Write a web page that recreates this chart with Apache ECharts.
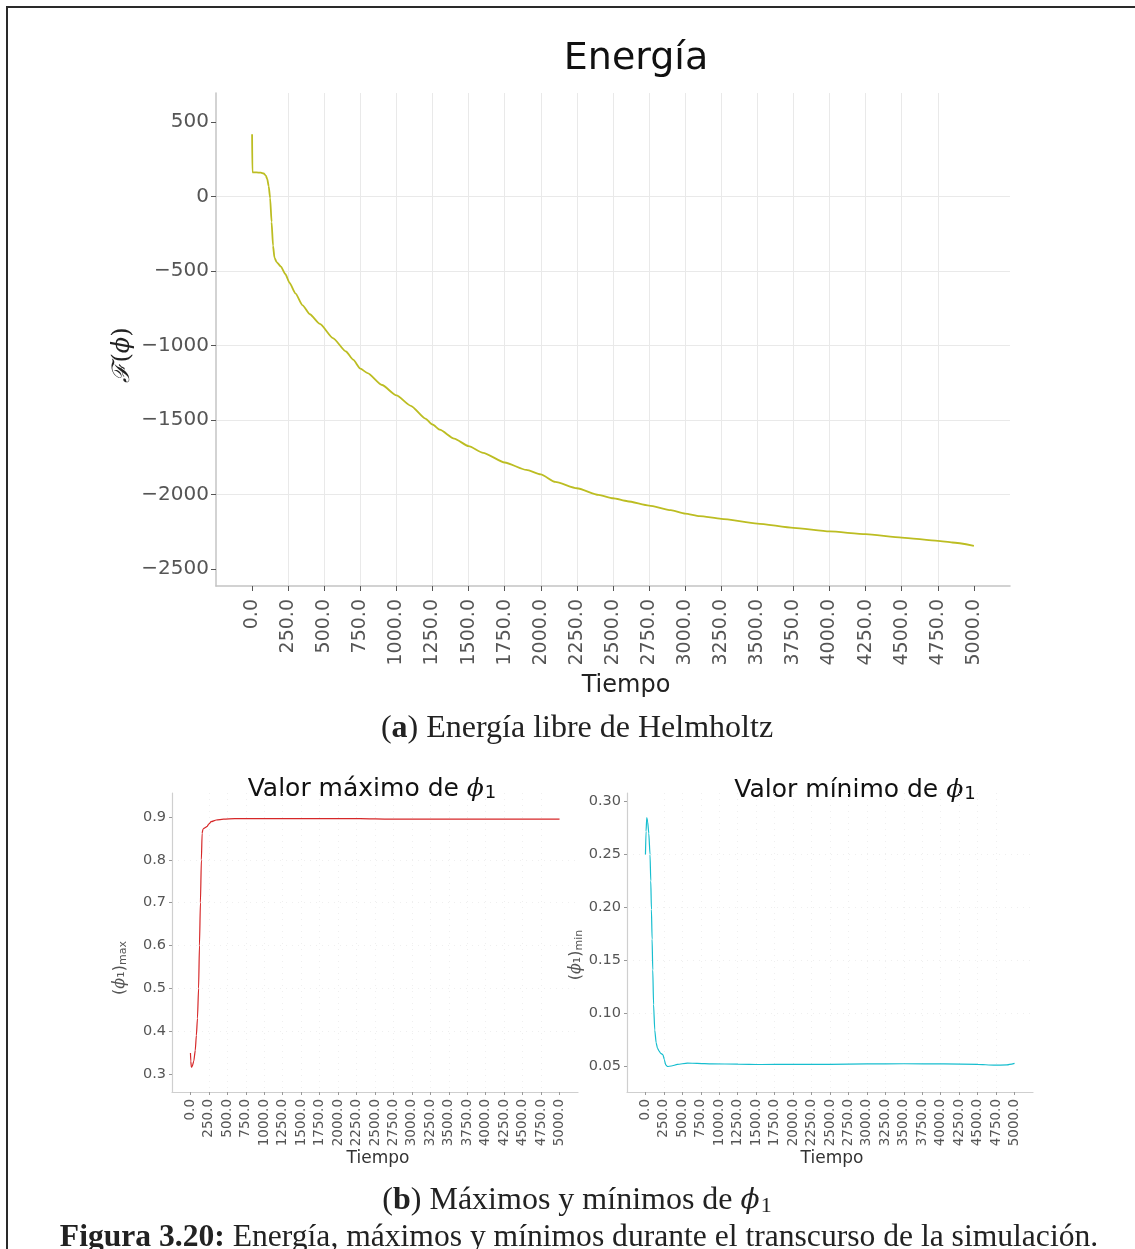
<!DOCTYPE html>
<html>
<head>
<meta charset="utf-8">
<script src="https://cdn.jsdelivr.net/npm/echarts@6/dist/echarts.min.js"></script>
<style>
  html, body { margin: 0; padding: 0; background: #ffffff; }
  #chart { width: 1135px; height: 1249px; }
</style>
</head>
<body>
<div id="chart"></div>
<script>
// Shared time ticks for every panel
const timeTicks = [0, 250, 500, 750, 1000, 1250, 1500, 1750, 2000, 2250, 2500,
  2750, 3000, 3250, 3500, 3750, 4000, 4250, 4500, 4750, 5000];

// Helmholtz free energy over time
const energyTime = [0, 2, 30, 60, 80, 95, 105, 115, 125, 135, 145, 155, 170, 200,
  230, 260, 300, 350, 400, 470, 560, 650, 700, 750, 800, 900, 1000, 1100, 1200,
  1250, 1300, 1400, 1500, 1600, 1750, 1900, 2000, 2100, 2250, 2400, 2500, 2600,
  2750, 2900, 3000, 3100, 3250, 3500, 3750, 4000, 4250, 4500, 4750, 4850, 5000];
const energyValue = [418, 163, 162, 160, 155, 140, 118, 70, -10, -170, -330, -410,
  -440, -470, -520, -580, -650, -730, -790, -855, -950, -1040, -1095, -1155, -1185,
  -1265, -1335, -1405, -1490, -1530, -1565, -1625, -1675, -1720, -1785, -1835,
  -1865, -1915, -1958, -2002, -2025, -2045, -2074, -2105, -2128, -2145, -2163,
  -2195, -2224, -2248, -2266, -2289, -2311, -2322, -2344];
const energyYTicks = [-2500, -2000, -1500, -1000, -500, 0, 500];

// Maximum of phi_1 over time
const maxTime = [0, 5, 12, 25, 45, 65, 80, 95, 110, 122, 135, 148, 158, 170, 200,
  225, 250, 280, 350, 450, 600, 1000, 1500, 2000, 2300, 2700, 3000, 3500, 4000,
  4500, 5000];
const maxValue = [0.349, 0.33, 0.316, 0.318, 0.33, 0.355, 0.39, 0.43, 0.50, 0.60,
  0.70, 0.80, 0.862, 0.872, 0.875, 0.878, 0.884, 0.889, 0.893, 0.895, 0.896, 0.896,
  0.896, 0.896, 0.896, 0.8948, 0.895, 0.895, 0.895, 0.895, 0.895];
const maxYTicks = [0.3, 0.4, 0.5, 0.6, 0.7, 0.8, 0.9];

// Minimum of phi_1 over time
const minTime = [0, 8, 18, 30, 45, 62, 72, 81, 90, 99, 110, 126, 145, 162, 185, 207,
  238, 255, 275, 297, 350, 433, 568, 700, 900, 1250, 1562, 2000, 2500, 3000, 3500,
  4042, 4500, 4718, 4898, 5000];
const minValue = [0.250, 0.272, 0.285, 0.281, 0.270, 0.250, 0.225, 0.198, 0.170,
  0.141, 0.108, 0.084, 0.072, 0.067, 0.064, 0.062, 0.0606, 0.056, 0.051, 0.0495,
  0.050, 0.0515, 0.0527, 0.0525, 0.052, 0.0518, 0.0514, 0.0515, 0.0516, 0.052,
  0.0521, 0.052, 0.0515, 0.0508, 0.051, 0.0524];
const minYTicks = [0.05, 0.10, 0.15, 0.20, 0.25, 0.30];

const zip = (xs, ys) => xs.map((x, i) => [x, ys[i]]);
const minus = v => String(v).replace('-', '\u2212');

const SANS = 'DejaVu Sans';
const SERIF = 'Liberation Serif';

function timeAxis(gridIndex, big) {
  return {
    type: 'value', gridIndex, min: -250, max: 5250, interval: 250,
    axisLine: { show: true, onZero: false,
      lineStyle: { color: big ? '#c4c4c4' : '#cfcfcf', width: big ? 1.5 : 1.2 } },
    axisTick: { show: true, customValues: timeTicks, length: big ? 5 : 3,
      lineStyle: { color: big ? '#555' : '#999', width: 1 } },
    axisLabel: { customValues: timeTicks, rotate: 90, margin: big ? 13 : 7,
      fontFamily: SANS, fontSize: big ? 19 : 13.5, color: '#555',
      formatter: v => v.toFixed(1) },
    splitLine: big
      ? { show: true, showMinLine: false, showMaxLine: false, lineStyle: { color: '#e9e9e9', width: 1 } }
      : { show: true, showMinLine: false, showMaxLine: false, lineStyle: { color: '#efefef', width: 1, type: [1, 5] } }
  };
}

function valueAxis(gridIndex, min, max, ticks, fmt, big) {
  return {
    type: 'value', gridIndex, min, max,
    axisLine: { show: true, onZero: false,
      lineStyle: { color: big ? '#c4c4c4' : '#cfcfcf', width: big ? 1.5 : 1.2 } },
    axisTick: { show: true, customValues: ticks, length: big ? 5 : 3,
      lineStyle: { color: big ? '#555' : '#999', width: 1 } },
    axisLabel: { customValues: ticks, margin: big ? 7 : 6,
      fontFamily: SANS, fontSize: big ? 20 : 14.5, color: '#555', formatter: fmt },
    splitLine: big
      ? { show: true, showMinLine: false, showMaxLine: false, lineStyle: { color: '#e9e9e9', width: 1 } }
      : { show: true, showMinLine: false, showMaxLine: false, lineStyle: { color: '#efefef', width: 1, type: [1, 5] } }
  };
}

const chart = echarts.init(document.getElementById('chart'), null, { renderer: 'canvas' });

// title text with an italic phi and a lowered subscript "1"
function phiTitle(label, size, color) {
  return {
    text: `{t|${label}}{phi|\u03d5}{s|1}`, align: 'center', verticalAlign: 'middle',
    rich: {
      t: { fontFamily: SANS, fontSize: size, fill: color },
      phi: { fontFamily: 'DejaVu Serif', fontStyle: 'italic', fontSize: size, fill: color },
      s: { fontFamily: SANS, fontSize: Math.round(size * 0.72), fill: color,
        verticalAlign: 'bottom', padding: [Math.round(size * 0.35), 0, 0, 1] }
    }
  };
}

const option = {
  backgroundColor: '#ffffff',
  animation: false,
  grid: [
    { left: 216, top: 93, width: 794, height: 493 },
    { left: 172, top: 793, width: 406, height: 299 },
    { left: 627, top: 793, width: 406, height: 299 }
  ],
  xAxis: [timeAxis(0, true), timeAxis(1, false), timeAxis(2, false)],
  yAxis: [
    valueAxis(0, -2614, 695, energyYTicks, v => minus(v), true),
    valueAxis(1, 0.258, 0.956, maxYTicks, v => v.toFixed(1), false),
    valueAxis(2, 0.0254, 0.3082, minYTicks, v => v.toFixed(2), false)
  ],
  series: [
    { type: 'line', xAxisIndex: 0, yAxisIndex: 0, data: zip(energyTime, energyValue),
      showSymbol: false, smooth: 0.2, smoothMonotone: 'x',
      lineStyle: { color: '#bcbd22', width: 1.8 } },
    { type: 'line', xAxisIndex: 1, yAxisIndex: 1, data: zip(maxTime, maxValue),
      showSymbol: false, smooth: 0.2, smoothMonotone: 'x',
      lineStyle: { color: '#d62728', width: 1.2 } },
    { type: 'line', xAxisIndex: 2, yAxisIndex: 2, data: zip(minTime, minValue),
      showSymbol: false, smooth: 0.2, smoothMonotone: 'x',
      lineStyle: { color: '#17becf', width: 1.2 } }
  ],
  graphic: [
    // page frame
    { type: 'polyline', silent: true,
      shape: { points: [[7, 1260], [7, 7], [1145, 7]] },
      style: { stroke: '#2a2a2a', lineWidth: 2, fill: null } },

    // top panel texts
    { type: 'text', x: 636, y: 59, style: { text: 'Energía', font: `38px "${SANS}"`,
      fill: '#111', align: 'center', verticalAlign: 'middle' } },
    { type: 'text', x: 123, y: 355, rotation: Math.PI / 2,
      style: { text: '{f|\u2131}{p|(}{phi|\u03d5}{p|)}', align: 'center', verticalAlign: 'middle',
        rich: {
          f: { fontFamily: 'DejaVu Serif', fontStyle: 'italic', fontSize: 24, fill: '#222' },
          p: { fontFamily: 'DejaVu Serif', fontSize: 24, fill: '#222' },
          phi: { fontFamily: 'DejaVu Serif', fontStyle: 'italic', fontSize: 24, fill: '#222' }
        } } },
    { type: 'text', x: 626, y: 686, style: { text: 'Tiempo', font: `24px "${SANS}"`,
      fill: '#222', align: 'center', verticalAlign: 'middle' } },
    { type: 'text', x: 577, y: 729, style: {
      text: '{b|(}{bb|a}{b|)}{t| Energía libre de Helmholtz}', align: 'center', verticalAlign: 'middle',
      rich: {
        b: { fontFamily: SERIF, fontSize: 32, fill: '#222' },
        bb: { fontFamily: SERIF, fontWeight: 'bold', fontSize: 32, fill: '#222' },
        t: { fontFamily: SERIF, fontSize: 32, fill: '#222' }
      } } },

    // bottom-left panel texts
    { type: 'text', x: 372, y: 789, style: phiTitle('Valor máximo de ', 25, '#111') },
    { type: 'text', x: 120, y: 968, rotation: Math.PI / 2, style: {
      text: '{t|(}{phi|\u03d5}{t|\u2081)}{s|max}', align: 'center', verticalAlign: 'middle',
      rich: {
        t: { fontFamily: SANS, fontSize: 16, fill: '#555' },
        phi: { fontFamily: 'DejaVu Serif', fontStyle: 'italic', fontSize: 16, fill: '#555' },
        s: { fontFamily: SANS, fontSize: 11, fill: '#555', verticalAlign: 'bottom', padding: [6, 0, 0, 0] }
      } } },
    { type: 'text', x: 378, y: 1159, style: { text: 'Tiempo', font: `17px "${SANS}"`,
      fill: '#333', align: 'center', verticalAlign: 'middle' } },

    // bottom-right panel texts
    { type: 'text', x: 855, y: 790, style: phiTitle('Valor mínimo de ', 25, '#111') },
    { type: 'text', x: 576, y: 955, rotation: Math.PI / 2, style: {
      text: '{t|(}{phi|\u03d5}{t|\u2081)}{s|min}', align: 'center', verticalAlign: 'middle',
      rich: {
        t: { fontFamily: SANS, fontSize: 16, fill: '#555' },
        phi: { fontFamily: 'DejaVu Serif', fontStyle: 'italic', fontSize: 16, fill: '#555' },
        s: { fontFamily: SANS, fontSize: 11, fill: '#555', verticalAlign: 'bottom', padding: [6, 0, 0, 0] }
      } } },
    { type: 'text', x: 832, y: 1159, style: { text: 'Tiempo', font: `17px "${SANS}"`,
      fill: '#333', align: 'center', verticalAlign: 'middle' } },

    // captions
    { type: 'text', x: 577, y: 1201, style: {
      text: '{b|(}{bb|b}{b|)}{t| Máximos y mínimos de }{phi|\u03d5}{s|1}', align: 'center', verticalAlign: 'middle',
      rich: {
        b: { fontFamily: SERIF, fontSize: 32, fill: '#222' },
        bb: { fontFamily: SERIF, fontWeight: 'bold', fontSize: 32, fill: '#222' },
        t: { fontFamily: SERIF, fontSize: 32, fill: '#222' },
        phi: { fontFamily: 'DejaVu Serif', fontStyle: 'italic', fontSize: 28, fill: '#222' },
        s: { fontFamily: SERIF, fontSize: 22, fill: '#222', verticalAlign: 'bottom', padding: [10, 0, 0, 1] }
      } } },
    { type: 'text', x: 579, y: 1238, style: {
      text: '{bb|Figura 3.20:}{t| Energía, máximos y mínimos durante el transcurso de la simulación.}',
      align: 'center', verticalAlign: 'middle',
      rich: {
        bb: { fontFamily: SERIF, fontWeight: 'bold', fontSize: 31.6, fill: '#222' },
        t: { fontFamily: SERIF, fontSize: 31.6, fill: '#222' }
      } } }
  ]
};

chart.setOption(option);
</script>
</body>
</html>
